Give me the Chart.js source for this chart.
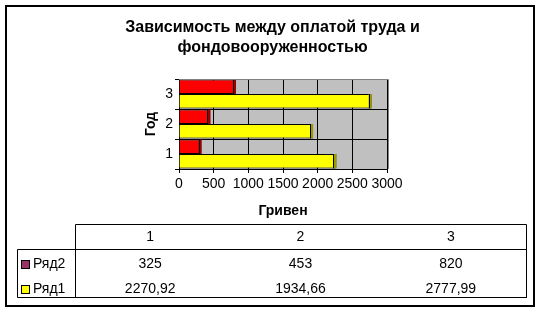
<!DOCTYPE html>
<html>
<head>
<meta charset="utf-8">
<script src="https://cdn.jsdelivr.net/npm/chart.js@4.4.0/dist/chart.umd.min.js"></script>
<style>
  html, body { margin: 0; padding: 0; background: #fff; }
</style>
</head>
<body>
<canvas id="chart" width="544" height="314"></canvas>
<script>
// Data
const years = ["1", "2", "3"];
const ryad1 = [2270.92, 1934.66, 2777.99];
const ryad2 = [325, 453, 820];
const seriesNames = ["Ряд2", "Ряд1"];
const chartTitle = ["Зависимость между оплатой труда и", "фондовооруженностью"];
const xAxisTitle = "Гривен";
const yAxisTitle = "Год";

// User Configs
const fontFamily = "'Liberation Sans', Arial, sans-serif";
const plotGray = "#C0C0C0";
const barColors = ["#FF0000", "#FFFF00"];
const capColors = ["#990000", "#999900"];
const swatchColors = ["#993366", "#FFFF00"];

Chart.defaults.font.family = fontFamily;
Chart.defaults.color = "#000";

const fmt = v => String(v).replace(".", ",");

// white page, outer frame, grey plot wall
const backgroundPlugin = {
  id: "background",
  beforeDraw(chart) {
    const { ctx, chartArea } = chart;
    ctx.save();
    ctx.fillStyle = "#fff";
    ctx.fillRect(0, 0, chart.width, chart.height);
    ctx.strokeStyle = "#000";
    ctx.lineWidth = 2;
    ctx.strokeRect(6, 6, 528, 300);
    ctx.fillStyle = plotGray;
    ctx.fillRect(chartArea.left, chartArea.top, chartArea.right - chartArea.left + 1, chartArea.bottom - chartArea.top);
    ctx.restore();
  }
};

// darker end caps on the bars, grey top/right edge of the wall
const capsPlugin = {
  id: "caps",
  afterDatasetsDraw(chart) {
    const { ctx, chartArea } = chart;
    ctx.save();
    chart.data.datasets.forEach((ds, i) => {
      chart.getDatasetMeta(i).data.forEach(el => {
        const top = el.y - el.height / 2;
        ctx.fillStyle = capColors[i];
        ctx.fillRect(el.x - 3, top, 3, el.height);
        ctx.strokeStyle = "#000";
        ctx.lineWidth = 1;
        ctx.beginPath();
        ctx.moveTo(Math.round(el.x - 3) + 0.5, top);
        ctx.lineTo(Math.round(el.x - 3) + 0.5, top + el.height);
        ctx.stroke();
      });
    });
    ctx.strokeStyle = "#808080";
    ctx.lineWidth = 1;
    ctx.beginPath();
    ctx.moveTo(chartArea.left, chartArea.top + 0.5);
    ctx.lineTo(chartArea.right + 1.5, chartArea.top + 0.5);
    ctx.lineTo(chartArea.right + 1.5, chartArea.bottom);
    ctx.stroke();
    ctx.restore();
  }
};

// data table under the chart
const tablePlugin = {
  id: "dataTable",
  afterDraw(chart) {
    const ctx = chart.ctx;
    const left = 17, keyRight = 75, right = 526;
    const headTop = 224, headBottom = 249, bottom = 297;
    const colW = (right - keyRight) / years.length;
    ctx.save();
    ctx.strokeStyle = "#000";
    ctx.lineWidth = 1;
    ctx.beginPath();
    ctx.rect(keyRight + 0.5, headTop + 0.5, right - keyRight, bottom - headTop);
    ctx.rect(left + 0.5, headBottom + 0.5, right - left, bottom - headBottom);
    ctx.stroke();

    ctx.font = "14px " + fontFamily;
    ctx.fillStyle = "#000";
    ctx.textAlign = "center";
    ctx.textBaseline = "middle";
    years.forEach((y, i) => {
      ctx.fillText(y, keyRight + colW * (i + 0.5), 237);
    });
    const rows = [ryad2, ryad1];
    rows.forEach((vals, r) => {
      const cy = 264 + r * 25;
      vals.forEach((v, i) => {
        ctx.fillText(fmt(v), keyRight + colW * (i + 0.5), cy);
      });
      ctx.fillStyle = swatchColors[r];
      ctx.fillRect(21, cy - 4, 9, 9);
      ctx.strokeRect(21.5, cy - 3.5, 8, 8);
      ctx.fillStyle = "#000";
      ctx.textAlign = "left";
      ctx.fillText(seriesNames[r], 33, cy);
      ctx.textAlign = "center";
    });
    ctx.restore();
  }
};

const data = {
  labels: years,
  datasets: [
    {
      label: seriesNames[0],
      data: ryad2,
      backgroundColor: barColors[0],
      borderColor: "#000",
      borderWidth: 1,
    },
    {
      label: seriesNames[1],
      data: ryad1,
      backgroundColor: barColors[1],
      borderColor: "#000",
      borderWidth: 1,
    },
  ],
};

const options = {
  responsive: false,
  animation: false,
  indexAxis: "y",
  categoryPercentage: 0.96,
  barPercentage: 1,
  layout: {
    padding: { left: 12, right: 11, top: 8, bottom: 94 },
  },
  plugins: {
    legend: { display: false },
    tooltip: { enabled: false },
    title: {
      display: true,
      text: chartTitle,
      font: { size: 16, weight: "bold", lineHeight: "20px" },
      padding: { top: 10, bottom: 21 },
      color: "#000",
    },
  },
  scales: {
    x: {
      type: "linear",
      min: 0,
      max: 3000,
      ticks: {
        stepSize: 500,
        autoSkip: false,
        font: { size: 14 },
        padding: 3,
        maxRotation: 0,
        callback: v => String(v),
      },
      grid: { color: "#000", tickLength: 4 },
      border: { color: "#000" },
      title: {
        display: true,
        text: xAxisTitle,
        font: { size: 14, weight: "bold" },
        padding: { top: 0, bottom: 0 },
      },
      afterFit: s => { s.height = 51; },
    },
    y: {
      type: "category",
      reverse: true,
      ticks: { font: { size: 14 }, padding: 2 },
      grid: { color: "#000", tickLength: 4 },
      border: { color: "#000" },
      title: {
        display: true,
        text: yAxisTitle,
        font: { size: 14, weight: "bold" },
        padding: { top: 131, bottom: 0 },
      },
      afterFit: s => { s.width = 167; },
    },
    yRight: {
      type: "linear",
      position: "right",
      display: true,
      grid: { display: false },
      border: { display: false },
      ticks: { display: false },
      afterFit: s => { s.width = 146; },
    },
  },
};

new Chart(document.getElementById("chart").getContext("2d"), {
  type: "bar",
  data: data,
  options: options,
  plugins: [backgroundPlugin, capsPlugin, tablePlugin],
});
</script>
</body>
</html>
